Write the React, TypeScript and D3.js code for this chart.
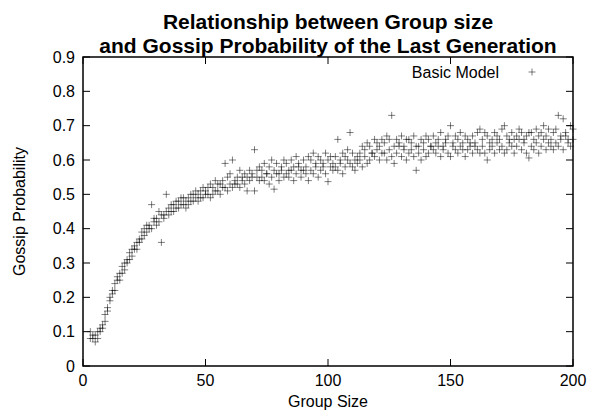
import { useMemo } from 'react';
import * as d3 from 'd3';

// group sizes 3..200, two runs
const groupStart = 3;
const runA = [
  0.10, 0.08, 0.09, 0.08, 0.11, 0.12, 0.15, 0.17, 0.19, 0.22,
  0.24, 0.25, 0.27, 0.27, 0.30, 0.31, 0.33, 0.34, 0.34, 0.36,
  0.37, 0.39, 0.38, 0.41, 0.40, 0.47, 0.42, 0.43, 0.45, 0.36,
  0.44, 0.50, 0.46, 0.45, 0.47, 0.46, 0.48, 0.47, 0.49, 0.48,
  0.49, 0.50, 0.48, 0.51, 0.50, 0.49, 0.52, 0.51, 0.50, 0.53,
  0.52, 0.54, 0.51, 0.53, 0.52, 0.59, 0.55, 0.53, 0.60, 0.54,
  0.55, 0.57, 0.54, 0.56, 0.55, 0.57, 0.56, 0.63, 0.55, 0.58,
  0.57, 0.59, 0.56, 0.58, 0.60, 0.57, 0.59, 0.56, 0.58, 0.60,
  0.59, 0.57, 0.60, 0.58, 0.61, 0.59, 0.57, 0.60, 0.58, 0.61,
  0.60, 0.62, 0.59, 0.61, 0.60, 0.58, 0.62, 0.60, 0.61, 0.59,
  0.61, 0.66, 0.60, 0.62, 0.61, 0.63, 0.68, 0.62, 0.60, 0.61,
  0.62, 0.64, 0.63, 0.65, 0.64, 0.62, 0.66, 0.65, 0.64, 0.66,
  0.65, 0.67, 0.66, 0.73, 0.64, 0.66, 0.65, 0.67, 0.64, 0.66,
  0.66, 0.65, 0.67, 0.57, 0.64, 0.66, 0.65, 0.67, 0.66, 0.64,
  0.67, 0.65, 0.66, 0.68, 0.64, 0.66, 0.67, 0.70, 0.65, 0.67,
  0.66, 0.68, 0.65, 0.67, 0.66, 0.64, 0.67, 0.65, 0.68, 0.69,
  0.66, 0.68, 0.67, 0.65, 0.66, 0.68, 0.67, 0.66, 0.69, 0.70,
  0.67, 0.66, 0.68, 0.66, 0.67, 0.69, 0.68, 0.66, 0.67, 0.68,
  0.68, 0.66, 0.69, 0.67, 0.68, 0.70, 0.67, 0.69, 0.66, 0.68,
  0.69, 0.73, 0.67, 0.72, 0.68, 0.66, 0.70, 0.69,
];
const runB = [
  0.08, 0.09, 0.07, 0.10, 0.10, 0.11, 0.13, 0.16, 0.20, 0.21,
  0.22, 0.26, 0.25, 0.29, 0.28, 0.30, 0.31, 0.32, 0.35, 0.34,
  0.36, 0.37, 0.40, 0.39, 0.41, 0.40, 0.43, 0.41, 0.42, 0.44,
  0.43, 0.45, 0.44, 0.47, 0.45, 0.48, 0.46, 0.49, 0.47, 0.46,
  0.47, 0.48, 0.50, 0.49, 0.48, 0.51, 0.49, 0.50, 0.52, 0.49,
  0.50, 0.51, 0.53, 0.50, 0.54, 0.52, 0.51, 0.56, 0.52, 0.53,
  0.53, 0.52, 0.55, 0.53, 0.51, 0.54, 0.55, 0.51, 0.57, 0.54,
  0.55, 0.54, 0.56, 0.53, 0.55, 0.515, 0.56, 0.54, 0.57, 0.55,
  0.56, 0.55, 0.57, 0.54, 0.56, 0.58, 0.55, 0.57, 0.56, 0.54,
  0.57, 0.56, 0.58, 0.55, 0.57, 0.59, 0.56, 0.537, 0.58, 0.57,
  0.58, 0.57, 0.59, 0.56, 0.58, 0.60, 0.59, 0.58, 0.57, 0.59,
  0.60, 0.58, 0.61, 0.59, 0.60, 0.62, 0.61, 0.63, 0.60, 0.62,
  0.62, 0.60, 0.63, 0.61, 0.59, 0.62, 0.64, 0.61, 0.63, 0.60,
  0.62, 0.63, 0.61, 0.64, 0.62, 0.60, 0.63, 0.61, 0.62, 0.64,
  0.63, 0.62, 0.64, 0.61, 0.63, 0.65, 0.62, 0.61, 0.64, 0.63,
  0.62, 0.64, 0.63, 0.61, 0.63, 0.65, 0.62, 0.64, 0.63, 0.62,
  0.64, 0.62, 0.60, 0.63, 0.64, 0.62, 0.65, 0.63, 0.64, 0.62,
  0.63, 0.65, 0.64, 0.62, 0.64, 0.66, 0.63, 0.65, 0.62, 0.606,
  0.64, 0.63, 0.65, 0.62, 0.64, 0.66, 0.63, 0.65, 0.64, 0.63,
  0.65, 0.64, 0.66, 0.63, 0.67, 0.65, 0.64, 0.66,
];
const xTicks = [0, 50, 100, 150, 200];
const yTicks = [0, 0.1, 0.2, 0.3, 0.4, 0.5, 0.6, 0.7, 0.8, 0.9];

const W = 589, H = 410;
const left = 83, right = 573, top = 57, bottom = 366;
const font = '"Liberation Sans", Arial, Helvetica, sans-serif';

export default function App() {
  const x = d3.scaleLinear().domain([0, 200]).range([left, right]);
  const y = d3.scaleLinear().domain([0, 0.9]).range([bottom, top]);
  const points = useMemo(
    () => [...runA, ...runB].map((v, i) => ({ g: groupStart + (i % runA.length), v })),
    []
  );
  const tl = 7;
  const ms = 3.5;
  return (
    <svg width={W} height={H} style={{ position: 'absolute', left: 0, top: 0, background: '#fff' }} fontFamily={font}>
      <text x={(left + right) / 2} y={29} textAnchor="middle" fontSize={21} fontWeight="bold">Relationship between Group size</text>
      <text x={(left + right) / 2} y={53} textAnchor="middle" fontSize={21} fontWeight="bold">and Gossip Probability of the Last Generation</text>

      {yTicks.map((t) => (
        <g key={'y' + t}>
          <line x1={left} x2={left + tl} y1={y(t)} y2={y(t)} stroke="#000" />
          <line x1={right} x2={right - tl} y1={y(t)} y2={y(t)} stroke="#000" />
          <text x={left - 8} y={y(t)} dy="0.35em" textAnchor="end" fontSize={16}>{d3.format('~g')(t)}</text>
        </g>
      ))}
      {xTicks.map((t) => (
        <g key={'x' + t}>
          <line x1={x(t)} x2={x(t)} y1={bottom} y2={bottom - tl} stroke="#000" />
          <line x1={x(t)} x2={x(t)} y1={top} y2={top + tl} stroke="#000" />
          <text x={x(t)} y={bottom + 20} textAnchor="middle" fontSize={16}>{t}</text>
        </g>
      ))}

      <g stroke="#000" strokeOpacity={0.5} strokeWidth={1}>
        {points.map((p, i) => (
          <path key={i} d={`M${x(p.g) - ms},${y(p.v)}h${2 * ms}M${x(p.g)},${y(p.v) - ms}v${2 * ms}`} />
        ))}
        <path d={`M${532 - ms},72h${2 * ms}M532,${72 - ms}v${2 * ms}`} />
      </g>
      <text x={499} y={72} dy="0.35em" textAnchor="end" fontSize={16}>Basic Model</text>

      <rect x={left} y={top} width={right - left} height={bottom - top} fill="none" stroke="#000" strokeWidth={1.5} />

      <text x={(left + right) / 2} y={407} textAnchor="middle" fontSize={16}>Group Size</text>
      <text transform={`translate(25,${(top + bottom) / 2}) rotate(-90)`} textAnchor="middle" fontSize={16}>Gossip Probability</text>
    </svg>
  );
}
